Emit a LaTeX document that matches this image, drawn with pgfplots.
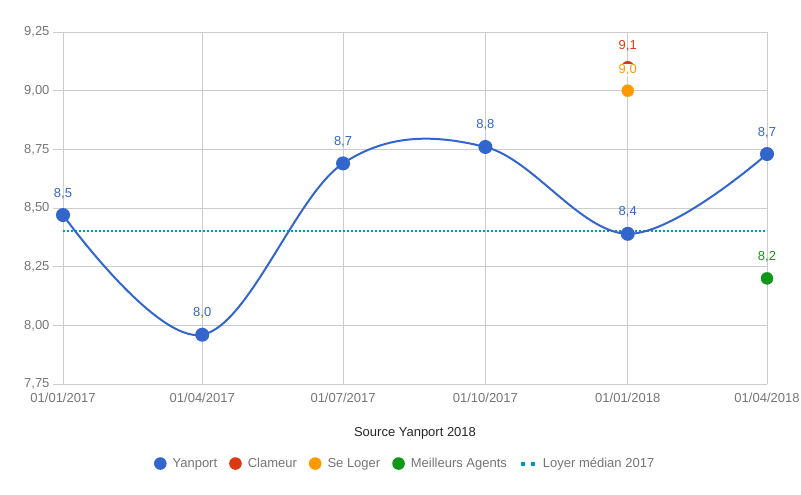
\documentclass[border=0pt]{standalone}
\usepackage{pgfplots}
\pgfplotsset{compat=1.18}
\usepackage{fontspec}
\setmainfont{Liberation Sans}
\definecolor{cYan}{HTML}{3366CC}
\definecolor{cCla}{HTML}{DC3912}
\definecolor{cSeL}{HTML}{FF9900}
\definecolor{cMei}{HTML}{109618}
\definecolor{cMed}{HTML}{0099C6}
\definecolor{cGrid}{HTML}{CCCCCC}
\definecolor{cTxt}{HTML}{757575}
\newcommand{\lbl}{\pgfmathprintnumber[fixed,zerofill,precision=1,use comma]{\pgfplotspointmeta}}
\pgfplotsset{
  dotlegend/.style={legend image code/.code={\path[fill=#1, draw=none, line width=0pt] (0pt,0pt) circle (6.3pt);}},
}
\begin{document}
\begin{tikzpicture}
\useasboundingbox (0,0) rectangle (801pt,495pt);
\begin{axis}[
  at={(63pt,111pt)}, anchor=south west,
  scale only axis, width=704pt, height=352pt,
  xmin=0, xmax=455, ymin=7.75, ymax=9.25,
  axis line style={draw=none},
  xtick={0,90,181,273,365,455},
  xticklabels={01/01/2017,01/04/2017,01/07/2017,01/10/2017,01/01/2018,01/04/2018},
  ytick={7.75,8,8.25,8.5,8.75,9,9.25},
  grid=major, major grid style={cGrid, line width=0.8pt},
  xtick style={draw=none},
  ytick style={cGrid, line width=0.8pt},
  ytick pos=left,
  ytick align=outside, major tick length=10pt,
  font=\fontsize{13}{15}\selectfont,
  tick label style={cTxt},
  /pgf/number format/assume math mode=true,
  yticklabel={\pgfmathprintnumber[fixed,zerofill,precision=2,use comma]{\tick}},
  xticklabel style={yshift=-6pt},
  xlabel={Source Yanport 2018},
  xlabel style={at={(axis description cs:0.5,-0.141)}, anchor=center, text=black!85},
  legend columns=-1,
  legend style={at={(axis description cs:0.486,-0.226)}, anchor=center, draw=none,
    text=cTxt, font=\fontsize{13}{15}\selectfont,
    /tikz/every odd column/.append style={column sep=4pt},
    /tikz/every even column/.append style={column sep=10pt}},
  clip=false,
  every node near coord/.append style={anchor=base, yshift=18pt, font=\fontsize{13}{15}\selectfont},
]
\addplot[cMed, line width=2pt, dash pattern=on 2pt off 2pt, forget plot]
  coordinates {(0,8.40) (455,8.40)};
\addplot[cYan, line width=2pt, smooth, tension=0.6, mark=*, mark size=6pt,
  mark options={fill=cYan, draw=cYan}, point meta=y, nodes near coords=\lbl,
  every node near coord/.append style={text=cYan}, dotlegend=cYan]
  coordinates {(0,8.47) (90,7.96) (181,8.69) (273,8.76) (365,8.39) (455,8.73)};
\addlegendentry{Yanport}
\addplot[only marks, mark=*, mark size=6pt, color=cCla, point meta=y,
  nodes near coords=\lbl, every node near coord/.append style={text=cCla}, dotlegend=cCla]
  coordinates {(365,9.10)};
\addlegendentry{Clameur}
\addplot[only marks, mark=*, mark size=6pt, color=cSeL, point meta=y,
  nodes near coords=\lbl, every node near coord/.append style={text=cSeL, fill=white, inner sep=0.5pt, yshift=-1pt}, dotlegend=cSeL]
  coordinates {(365,9.00)};
\addlegendentry{Se Loger}
\addplot[only marks, mark=*, mark size=6pt, color=cMei, point meta=y,
  nodes near coords=\lbl, every node near coord/.append style={text=cMei}, dotlegend=cMei]
  coordinates {(455,8.20)};
\addlegendentry{Meilleurs Agents}
\addlegendimage{legend image code/.code={\draw[cMed, line width=4pt, dash pattern=on 4pt off 6pt] (0pt,0pt) -- (14pt,0pt);}}
\addlegendentry{Loyer médian 2017}
\end{axis}
\end{tikzpicture}
\end{document}
